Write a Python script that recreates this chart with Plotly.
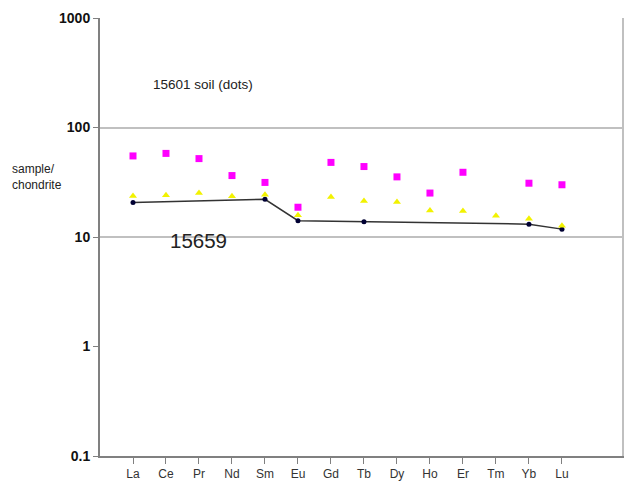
import plotly.graph_objects as go

elements = ["La", "Ce", "Pr", "Nd", "Sm", "Eu", "Gd", "Tb", "Dy", "Ho", "Er", "Tm", "Yb", "Lu"]
soil_high = [55, 58, 52, 36.4, 31.5, 18.7, 48, 44, 35.4, 25.2, 39, None, 31, 30]
soil_low = [23.7, 24, 25.2, 23.5, 24.3, 15.8, 23.2, 21.3, 20.9, 17.5, 17.3, 15.6, 14.7, 12.7]
rock_15659 = [20.7, None, None, None, 22.1, 14.1, None, 13.8, None, None, None, None, 13.1, 11.8]
y_ticks = [0.1, 1, 10, 100, 1000]
y_tick_text = ["0.1", "1", "10", "100", "1000"]
grid_levels = [10, 100, 1000]

x = list(range(len(elements)))
FONT = "Arial, Liberation Sans, sans-serif"

fig = go.Figure()
fig.add_trace(go.Scatter(
    x=x, y=rock_15659, mode="lines+markers", connectgaps=True,
    line=dict(color="#333333", width=1.5),
    marker=dict(color="#000033", size=5, symbol="circle"),
    showlegend=False))
fig.add_trace(go.Scatter(
    x=x, y=soil_low, mode="markers",
    marker=dict(color="#F2F200", size=7, symbol="triangle-up"),
    showlegend=False))
# same log scale as the left axis; the overlaid right axis draws the frame's right edge
fig.add_trace(go.Scatter(
    x=x, y=soil_high, mode="markers", yaxis="y2",
    marker=dict(color="#FF00FF", size=7, symbol="square"),
    showlegend=False))

# page body adds an 8px offset; figure sized so the page fits the 632x491 window
fig.update_layout(
    width=616, height=475,
    margin=dict(l=92, r=2, t=7, b=24),
    paper_bgcolor="white", plot_bgcolor="white",
    font=dict(family=FONT, color="#222222"),
    xaxis=dict(
        range=[-1, 14.82], tickmode="array", tickvals=x, ticktext=elements,
        showgrid=False, zeroline=False, showline=True, linecolor="#808080", linewidth=2,
        ticks="outside", ticklen=6, tickcolor="#808080", tickwidth=1,
        tickfont=dict(family=FONT, size=12, color="#333333")),
    yaxis=dict(
        type="log", range=[-1, 3], tickmode="array", tickvals=y_ticks, ticktext=y_tick_text,
        showgrid=False, zeroline=False, showline=True, linecolor="#808080", linewidth=2,
        ticks="outside", ticklen=5, tickcolor="#808080", tickwidth=1,
        ticklabeloverflow="allow",
        tickfont=dict(family=FONT, size=14, color="#111111", weight="bold"),
        minor=dict(tickmode="array", tickvals=grid_levels, showgrid=True,
                   gridcolor="#C0C0C0", gridwidth=2, ticks="")),
    yaxis2=dict(
        type="log", range=[-1, 3], overlaying="y", side="right",
        showline=True, linecolor="#C0C0C0", linewidth=2,
        showticklabels=False, ticks="", showgrid=False, zeroline=False),
    annotations=[
        dict(text="15601 soil (dots)", xref="paper", yref="paper", x=0.197, y=0.848,
             xanchor="center", yanchor="middle",
             showarrow=False, font=dict(family=FONT, size=13.5, color="#222222")),
        dict(text="15659", xref="paper", yref="paper", x=0.189, y=0.493,
             xanchor="center", yanchor="middle",
             showarrow=False, font=dict(family=FONT, size=20.5, color="#222222")),
        dict(text="sample/<br>chondrite", xref="paper", yref="paper", x=-0.172, y=0.638,
             xanchor="left", yanchor="middle", align="left", showarrow=False,
             font=dict(family=FONT, size=12, color="#222222")),
    ],
)

fig.write_html("out.html")
